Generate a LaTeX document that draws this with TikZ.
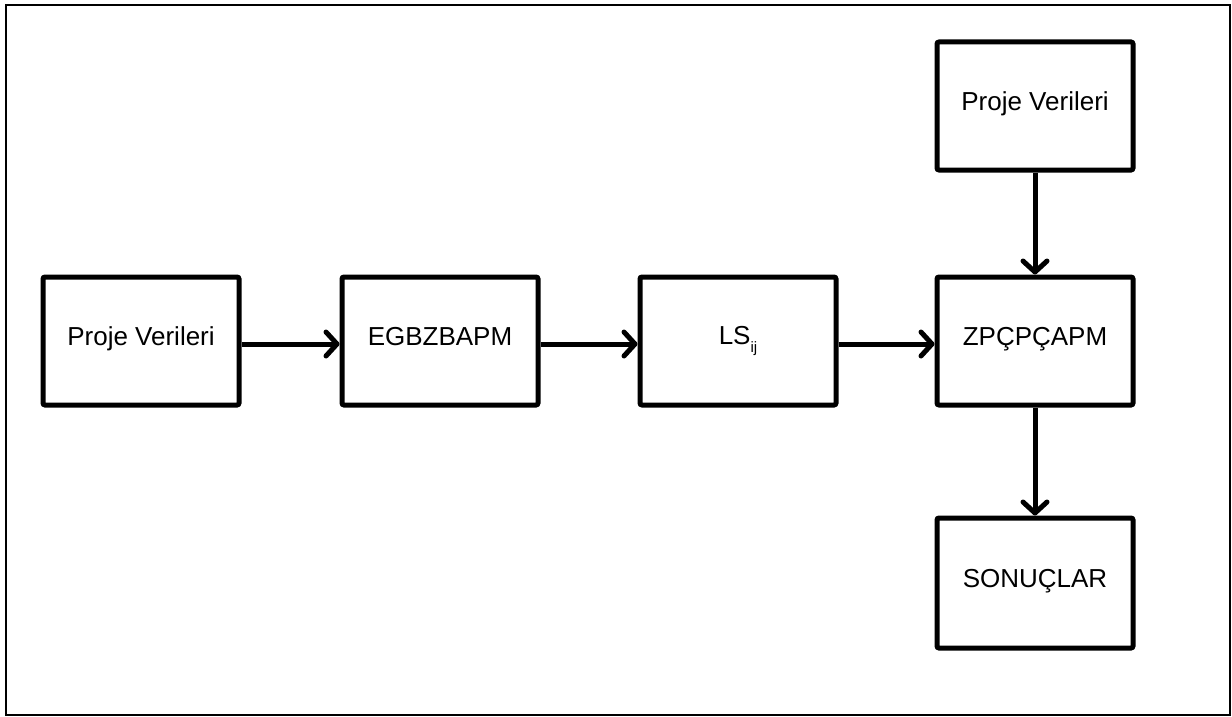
\documentclass[tikz,border=0pt]{standalone}
\usepackage{fontspec}
\setmainfont{Liberation Sans}
\usetikzlibrary{arrows.meta}
\begin{document}
\begin{tikzpicture}[x=1pt,y=-1pt,
  box/.style={draw=black,line width=5pt,rounded corners=2pt,minimum width=196pt,minimum height=128pt,inner sep=0pt,font=\fontsize{26}{30}\selectfont},
  conn/.style={line width=5pt,-{Straight Barb[length=11pt,width=24pt,line cap=round,line join=round]}}]
\useasboundingbox (0,0) rectangle (1232,717);
\draw[line width=2pt] (6,5) rectangle (1230,715);
\node[box] (p1) at (141,341) {\raisebox{9pt}{Proje Verileri}};
\node[box] (eg) at (440,341) {\raisebox{9pt}{EGBZBAPM}};
\node[box] (ls) at (738,341) {\raisebox{9pt}{LS\raisebox{-8pt}{\fontsize{15}{15}\selectfont ij}}};
\node[box] (zp) at (1035,341) {\raisebox{9pt}{ZPÇPÇAPM}};
\node[box] (p2) at (1035,106) {\raisebox{9pt}{Proje Verileri}};
\node[box,minimum height=130pt] (so) at (1035,583) {\raisebox{9pt}{SONUÇLAR}};
\draw[conn] ([yshift=-3pt]p1.east) -- ([yshift=-3pt]eg.west);
\draw[conn] ([yshift=-3pt]eg.east) -- ([yshift=-3pt]ls.west);
\draw[conn] ([yshift=-3pt]ls.east) -- ([yshift=-3pt]zp.west);
\draw[conn] (p2.south) -- (zp.north);
\draw[conn] (zp.south) -- (so.north);
\end{tikzpicture}
\end{document}
